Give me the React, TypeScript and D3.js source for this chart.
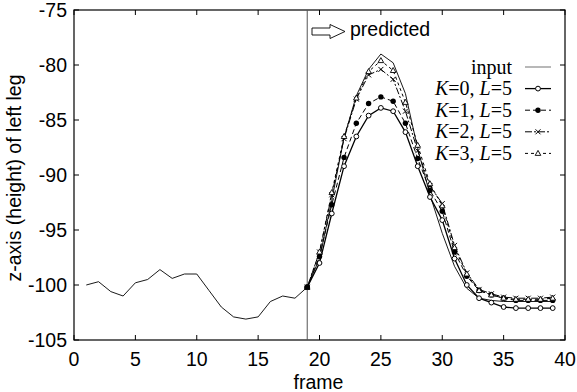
import React from "react";
import * as d3 from "d3";

const inputFrames = d3.range(1, 40);
const inputValues = [
  -100.0, -99.7, -100.6, -101.0, -99.8, -99.5, -98.6, -99.4, -99.0, -99.0,
  -100.5, -102.0, -102.9, -103.1, -102.9, -101.5, -101.0, -101.2, -100.2,
  -97.6, -92.3, -86.6, -82.8, -80.4, -79.0, -79.8, -82.6, -87.6, -91.8,
  -95.3, -98.3, -100.3, -101.2, -101.4, -101.5, -101.5, -101.5, -101.5, -101.5,
];

const predFrames = d3.range(19, 40);
const k0Values = [
  -100.2, -98.0, -93.5, -89.2, -86.5, -84.6, -83.9, -84.2, -86.1, -89.2, -92.0,
  -94.1, -97.6, -100.0, -101.2, -101.6, -102.0, -102.1, -102.1, -102.1, -102.1,
];
const k1Values = [
  -100.2, -97.4, -92.7, -88.4, -85.3, -83.5, -82.9, -83.3, -85.3, -88.5, -91.4,
  -93.3, -97.0, -99.2, -100.5, -100.9, -101.2, -101.4, -101.4, -101.4, -101.4,
];
const k2Values = [
  -100.2, -97.0, -91.8, -86.7, -83.1, -80.9, -80.4, -81.3, -84.2, -87.8, -91.0,
  -92.6, -96.4, -98.9, -100.4, -100.8, -101.1, -101.2, -101.2, -101.2, -101.1,
];
const k3Values = [
  -100.2, -97.0, -91.6, -86.5, -83.0, -80.6, -79.6, -80.5, -83.4, -87.3, -90.8,
  -92.8, -96.6, -99.0, -100.5, -100.9, -101.2, -101.3, -101.3, -101.3, -101.2,
];

const xTicks = [0, 5, 10, 15, 20, 25, 30, 35, 40];
const yTicks = [-105, -100, -95, -90, -85, -80, -75];
const splitFrame = 19;

const W = 577;
const H = 392;
const m = { left: 74, right: 12, top: 10, bottom: 52 };
const SANS = "'Liberation Sans', Arial, sans-serif";
const SERIF = "'Liberation Serif', 'Times New Roman', serif";

type Marker = "circle" | "dot" | "cross" | "triangle";

const series: { k: number; values: number[]; dash: string; marker: Marker; width: number }[] = [
  { k: 0, values: k0Values, dash: "", marker: "circle", width: 1.3 },
  { k: 1, values: k1Values, dash: "5,3", marker: "dot", width: 1 },
  { k: 2, values: k2Values, dash: "7,2,2,2", marker: "cross", width: 1 },
  { k: 3, values: k3Values, dash: "3,3", marker: "triangle", width: 1 },
];

function MarkerShape({ type, x, y }: { type: Marker; x: number; y: number }) {
  if (type === "circle")
    return <circle cx={x} cy={y} r={2.4} fill="#fff" stroke="#000" strokeWidth={1} />;
  if (type === "dot") return <circle cx={x} cy={y} r={2.7} fill="#000" />;
  if (type === "cross")
    return (
      <path
        d={`M${x - 2.5},${y - 2.5}L${x + 2.5},${y + 2.5}M${x - 2.5},${y + 2.5}L${x + 2.5},${y - 2.5}`}
        stroke="#000"
        strokeWidth={1}
      />
    );
  return (
    <path
      d={`M${x},${y - 3}L${x + 2.8},${y + 2}L${x - 2.8},${y + 2}Z`}
      fill="#fff"
      stroke="#000"
      strokeWidth={0.9}
    />
  );
}

export default function App() {
  const x = d3.scaleLinear().domain([0, 40]).range([m.left, W - m.right]);
  const y = d3.scaleLinear().domain([-105, -75]).range([H - m.bottom, m.top]);
  const line = d3
    .line<[number, number]>()
    .x((d) => x(d[0]))
    .y((d) => y(d[1]));

  const inputPts = inputFrames.map((f, i) => [f, inputValues[i]] as [number, number]);
  const [x0, x1] = x.range();
  const [yb, yt] = y.range();

  const ax = 312;
  const ay = 31.5;
  const arrow = `M${ax},${ay - 3.5}L${ax + 18},${ay - 3.5}L${ax + 18},${ay - 7}L${ax + 33},${ay}L${ax + 18},${ay + 7}L${ax + 18},${ay + 3.5}L${ax},${ay + 3.5}Z`;

  const legX0 = 525;
  const legX1 = 551;
  const legTextX = 512;
  const legY0 = 67;
  const legStep = 21.6;

  return (
    <svg width={W} height={H} style={{ position: "absolute", left: 0, top: 0, background: "#fff" }}>
      {/* frame and ticks */}
      <rect x={x0} y={yt} width={x1 - x0} height={yb - yt} fill="none" stroke="#000" strokeWidth={1.2} />
      {xTicks.map((t) => (
        <g key={"xt" + t}>
          <line x1={x(t)} x2={x(t)} y1={yb} y2={yb - 5} stroke="#000" />
          <line x1={x(t)} x2={x(t)} y1={yt} y2={yt + 5} stroke="#000" />
          <text x={x(t)} y={yb + 26} textAnchor="middle" fontFamily={SANS} fontSize={19.5}>
            {t}
          </text>
        </g>
      ))}
      {yTicks.map((t) => (
        <g key={"yt" + t}>
          <line x1={x0} x2={x0 + 5} y1={y(t)} y2={y(t)} stroke="#000" />
          <line x1={x1} x2={x1 - 5} y1={y(t)} y2={y(t)} stroke="#000" />
          <text x={x0 - 7} y={y(t) + 7} textAnchor="end" fontFamily={SANS} fontSize={19.5}>
            {t}
          </text>
        </g>
      ))}
      <text x={(x0 + x1) / 2 - 1} y={389} textAnchor="middle" fontFamily={SANS} fontSize={19.5}>
        frame
      </text>
      <text
        transform={`translate(21,${(yt + yb) / 2 + 3}) rotate(-90)`}
        textAnchor="middle"
        fontFamily={SANS}
        fontSize={19.5}
      >
        z-axis (height) of left leg
      </text>

      {/* split line and predicted arrow */}
      <line x1={x(splitFrame)} x2={x(splitFrame)} y1={yt} y2={yb} stroke="#555" strokeWidth={1} />
      <path d={arrow} fill="#fff" stroke="#000" strokeWidth={0.9} />
      <text x={350} y={35.5} fontFamily={SANS} fontSize={19.5}>
        predicted
      </text>

      {/* data */}
      <path d={line(inputPts) ?? ""} fill="none" stroke="#000" strokeWidth={0.9} />
      {series.map((s) => {
        const pts = predFrames.map((f, i) => [f, s.values[i]] as [number, number]);
        return (
          <g key={"s" + s.k}>
            <path
              d={line(pts) ?? ""}
              fill="none"
              stroke="#000"
              strokeWidth={s.width}
              strokeDasharray={s.dash || undefined}
            />
            {pts.map((p, i) => (
              <MarkerShape key={i} type={s.marker} x={x(p[0])} y={y(p[1])} />
            ))}
          </g>
        );
      })}
      <rect x={x(splitFrame) - 2.5} y={y(inputValues[splitFrame - 1]) - 2.5} width={5} height={5} fill="#000" />

      {/* legend */}
      <text x={legTextX} y={legY0 + 6.5} textAnchor="end" fontFamily={SERIF} fontSize={20}>
        input
      </text>
      <line x1={legX0} x2={legX1} y1={legY0} y2={legY0} stroke="#888" strokeWidth={1.2} />
      {series.map((s, i) => {
        const ly = legY0 + legStep * (i + 1);
        return (
          <g key={"l" + s.k}>
            <text x={legTextX} y={ly + 6.5} textAnchor="end" fontFamily={SERIF} fontSize={20}>
              <tspan fontStyle="italic">K</tspan>={s.k}, <tspan fontStyle="italic">L</tspan>=5
            </text>
            <line
              x1={legX0}
              x2={legX1}
              y1={ly}
              y2={ly}
              stroke="#000"
              strokeWidth={s.width}
              strokeDasharray={s.dash || undefined}
            />
            <MarkerShape type={s.marker} x={(legX0 + legX1) / 2} y={ly} />
          </g>
        );
      })}
    </svg>
  );
}
